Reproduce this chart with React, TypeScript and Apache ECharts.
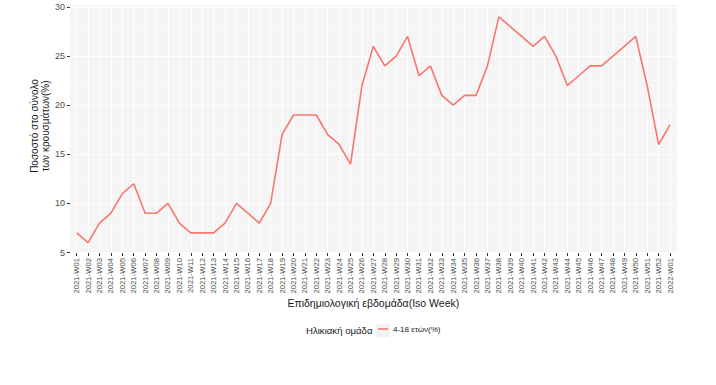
import React, { useEffect, useRef } from "react";
import * as echarts from "echarts";

const categories = [
  "2021-W01", "2021-W02", "2021-W03", "2021-W04", "2021-W05", "2021-W06", "2021-W07", "2021-W08",
  "2021-W09", "2021-W10", "2021-W11", "2021-W12", "2021-W13", "2021-W14", "2021-W15", "2021-W16",
  "2021-W17", "2021-W18", "2021-W19", "2021-W20", "2021-W21", "2021-W22", "2021-W23", "2021-W24",
  "2021-W25", "2021-W26", "2021-W27", "2021-W28", "2021-W29", "2021-W30", "2021-W31", "2021-W32",
  "2021-W33", "2021-W34", "2021-W35", "2021-W36", "2021-W37", "2021-W38", "2021-W39", "2021-W40",
  "2021-W41", "2021-W42", "2021-W43", "2021-W44", "2021-W45", "2021-W46", "2021-W47", "2021-W48",
  "2021-W49", "2021-W50", "2021-W51", "2021-W52", "2022-W01",
];

const seriesName = "4-18 ετών(%)";
const values = [
  7, 6, 8, 9, 11, 12, 9, 9, 10, 8, 7, 7, 7, 8, 10, 9, 8, 10, 17, 19, 19, 19, 17, 16, 14,
  22, 26, 24, 25, 27, 23, 24, 21, 20, 21, 21, 24, 29, 28, 27, 26, 27, 25, 22, 23, 24, 24,
  25, 26, 27, 22, 16, 18,
];

const yMin = 5;
const yMax = 30;
const yStep = 5;

const yTitle = "Ποσοστό στο σύνολο\nτων κρουσμάτων(%)";
const xTitle = "Επιδημιολογική εβδομάδα(Iso Week)";
const legendTitle = "Ηλικιακή ομάδα";

const FONT = "'Liberation Sans', Arial, sans-serif";

export default function App() {
  const ref = useRef<HTMLDivElement>(null);
  useEffect(() => {
    if (!ref.current) return;
    const chart = echarts.init(ref.current, undefined, { renderer: "svg" });
    const pLeft = 70, pTop = 5, pW = 606.7, pH = 248;
    const yTop = 7, yH = 245.5;
    const pxPerUnit = yH / (yMax - yMin);
    const hidMax = yMax + (yTop - pTop) / pxPerUnit;
    const hidMin = yMin - (pTop + pH - (yTop + yH)) / pxPerUnit;

    chart.setOption({
      animation: false,
      backgroundColor: "#ffffff",
      textStyle: { fontFamily: FONT },
      grid: [
        { left: pLeft, top: yTop, width: pW, height: yH, containLabel: false },
        { left: 76.7, top: pTop, width: 593.3, height: pH, containLabel: false },
      ],
      xAxis: [
        { gridIndex: 0, type: "value", min: 0, max: 1, show: false },
        {
          gridIndex: 1,
          type: "category",
          data: categories,
          boundaryGap: false,
          axisLine: { show: false },
          axisTick: { show: true, length: 3, lineStyle: { color: "#333333", width: 1 } },
          axisLabel: {
            interval: 0,
            rotate: 90,
            fontSize: 7.7,
            color: "#4D4D4D",
            margin: 5,
            fontFamily: FONT,
          },
          splitLine: { show: true, lineStyle: { color: "#ffffff", width: 1 } },
        },
      ],
      yAxis: [
        {
          gridIndex: 0,
          type: "value",
          min: yMin,
          max: yMax,
          interval: yStep,
          axisLine: { show: false },
          axisTick: { show: true, length: 3, lineStyle: { color: "#333333", width: 1 } },
          axisLabel: { fontSize: 9, color: "#4D4D4D", margin: 5, fontFamily: FONT },
          splitLine: { show: true, lineStyle: { color: "#ffffff", width: 1.1 } },
          minorTick: { show: false, splitNumber: 2 },
          minorSplitLine: { show: true, lineStyle: { color: "#ffffff", width: 0.5 } },
        },
        {
          gridIndex: 1,
          type: "value",
          min: hidMin,
          max: hidMax,
          show: false,
          splitLine: { show: false },
        },
      ],
      legend: {
        show: true,
        left: 378,
        top: 325,
        padding: 0,
        icon: "rect",
        itemWidth: 10,
        itemHeight: 1.6,
        itemGap: 10,
        textStyle: { fontSize: 8, color: "#1A1A1A", fontFamily: FONT },
        data: [seriesName],
      },
      graphic: [
        {
          type: "rect",
          z: -10,
          silent: true,
          shape: { x: pLeft, y: pTop, width: pW, height: pH },
          style: { fill: "#F5F5F5" },
        },
        {
          type: "rect",
          z: -10,
          silent: true,
          shape: { x: 376, y: 323.5, width: 14, height: 14 },
          style: { fill: "#F2F2F2" },
        },
        {
          type: "text",
          x: 306,
          y: 330.5,
          style: {
            text: legendTitle,
            fontSize: 9.6,
            fill: "#1A1A1A",
            fontFamily: FONT,
            textAlign: "left",
            textVerticalAlign: "middle",
          },
        },
        {
          type: "text",
          x: (pLeft + pLeft + pW) / 2,
          y: 303,
          style: {
            text: xTitle,
            fontSize: 10.5,
            fill: "#1A1A1A",
            fontFamily: FONT,
            textAlign: "center",
            textVerticalAlign: "middle",
          },
        },
        {
          type: "text",
          x: 40,
          y: 126,
          rotation: Math.PI / 2,
          style: {
            text: yTitle,
            fontSize: 10,
            lineHeight: 10.5,
            fill: "#1A1A1A",
            fontFamily: FONT,
            textAlign: "center",
            textVerticalAlign: "middle",
          },
        },
      ],
      series: [
        {
          name: seriesName,
          type: "line",
          xAxisIndex: 1,
          yAxisIndex: 1,
          data: values,
          symbol: "none",
          showSymbol: false,
          color: "#F8766D",
          lineStyle: { color: "#F8766D", width: 1.6 },
          z: 5,
        },
      ],
    });
    return () => chart.dispose();
  }, []);
  return (
    <div
      ref={ref}
      style={{ position: "fixed", left: 0, top: 0, width: 716, height: 385, background: "#fff" }}
    />
  );
}
